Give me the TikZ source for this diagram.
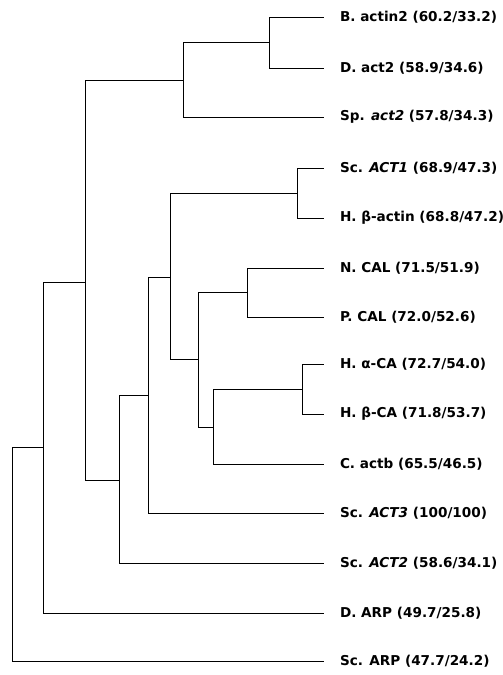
\documentclass[tikz,border=0pt]{standalone}
\usepackage{fontspec}
\setmainfont{DejaVu Sans}
\begin{document}
\begin{tikzpicture}[x=1pt,y=-1pt,
  branch/.style={line width=0.9pt,black},
  leaf/.style={anchor=west,inner xsep=2pt,outer xsep=14pt,inner ysep=1pt,
    font=\fontsize{13.6}{15}\selectfont\bfseries}]
\useasboundingbox (0,0) rectangle (503,675);
% leaves
\node[leaf] (l1)  at (324,17)  {B. actin2 (60.2/33.2)};
\node[leaf] (l2)  at (324,68)  {D. act2 (58.9/34.6)};
\node[leaf] (l3)  at (324,117) {Sp. \textit{act2} (57.8/34.3)};
\node[leaf] (l4)  at (324,168) {Sc. \textit{ACT1} (68.9/47.3)};
\node[leaf] (l5)  at (324,218) {H. β-actin (68.8/47.2)};
\node[leaf] (l6)  at (324,268) {N. CAL (71.5/51.9)};
\node[leaf] (l7)  at (324,317) {P. CAL (72.0/52.6)};
\node[leaf] (l8)  at (324,364) {H. α-CA (72.7/54.0)};
\node[leaf] (l9)  at (324,414) {H. β-CA (71.8/53.7)};
\node[leaf] (l10) at (324,464) {C. actb (65.5/46.5)};
\node[leaf] (l11) at (324,513) {Sc. \textit{ACT3} (100/100)};
\node[leaf] (l12) at (324,563) {Sc. \textit{ACT2} (58.6/34.1)};
\node[leaf] (l13) at (324,613) {D. ARP (49.7/25.8)};
\node[leaf] (l14) at (324,661) {Sc. ARP (47.7/24.2)};
% internal nodes
\coordinate (nBD)   at (269,42.7);
\coordinate (nBDS)  at (183,80);
\coordinate (nA)    at (85,282);
\coordinate (nAB)   at (297,193);
\coordinate (nCAL)  at (247,292);
\coordinate (nCA)   at (302,389);
\coordinate (nZ)    at (213,427);
\coordinate (nY)    at (198,359);
\coordinate (nX)    at (170,277);
\coordinate (nACT3) at (148,395);
\coordinate (nACT2) at (119,480);
\coordinate (nARP)  at (43,447);
\coordinate (root)  at (12,447);
% branches
\draw[branch] (nBD) |- (l1.west);
\draw[branch] (nBD) |- (l2.west);
\draw[branch] (nBDS) |- (nBD);
\draw[branch] (nBDS) |- (l3.west);
\draw[branch] (nA) |- (nBDS);
\draw[branch] (nA) |- (nACT2);
\draw[branch] (nAB) |- (l4.west);
\draw[branch] (nAB) |- (l5.west);
\draw[branch] (nCAL) |- (l6.west);
\draw[branch] (nCAL) |- (l7.west);
\draw[branch] (nCA) |- (l8.west);
\draw[branch] (nCA) |- (l9.west);
\draw[branch] (nZ) |- (nCA);
\draw[branch] (nZ) |- (l10.west);
\draw[branch] (nY) |- (nCAL);
\draw[branch] (nY) |- (nZ);
\draw[branch] (nX) |- (nAB);
\draw[branch] (nX) |- (nY);
\draw[branch] (nACT3) |- (nX);
\draw[branch] (nACT3) |- (l11.west);
\draw[branch] (nACT2) |- (nACT3);
\draw[branch] (nACT2) |- (l12.west);
\draw[branch] (nARP) |- (nA);
\draw[branch] (nARP) |- (l13.west);
\draw[branch] (root) |- (nARP);
\draw[branch] (root) |- (l14.west);
\end{tikzpicture}
\end{document}
